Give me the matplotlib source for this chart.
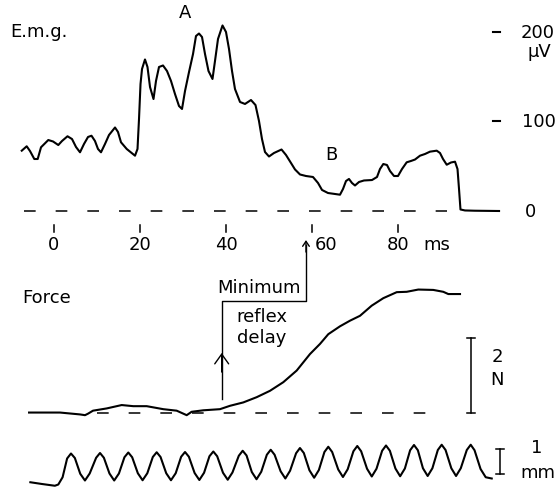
import matplotlib
matplotlib.use("Agg")
import matplotlib.pyplot as plt

plt.rcParams['font.family'] = ['DejaVu Sans']
plt.rcParams['lines.scale_dashes'] = False

# E.m.g. trace (time in ms, amplitude in microvolts)
emg_t = [-7.5, -6.35, -5.58, -4.58, -3.79, -3.02, -1.33, -0.23, 1.0, 1.86, 3.14, 4.19, 5.12, 6.05,
         6.98, 7.91, 8.72, 9.53, 10.23, 10.93, 11.86, 12.79, 14.19, 14.88, 15.58, 16.91, 17.91, 18.84,
         19.42, 19.77, 20.12, 20.47, 21.16, 21.74, 22.33, 23.14, 23.72, 24.42, 25.35, 26.28, 27.21,
         28.14, 29.07, 29.77, 30.47, 31.4, 32.33, 33.02, 33.72, 34.42, 35.12, 35.93, 36.86, 37.44,
         38.14, 39.19, 40.0, 40.7, 41.4, 42.09, 43.26, 44.42, 45.81, 46.86, 47.67, 48.37, 49.07, 50.0,
         51.16, 52.91, 53.95, 55.12, 56.05, 57.21, 58.6, 60.23, 61.4, 62.33, 63.72, 65.35, 66.51,
         67.21, 67.91, 68.6, 69.3, 70.0, 70.93, 72.09, 73.95, 75.12, 75.81, 76.58, 77.44, 78.14, 79.07,
         80.0, 80.93, 82.02, 83.02, 83.95, 85.12, 86.28, 87.44, 89.0, 89.77, 90.47, 91.33, 92.33,
         93.26, 93.84, 94.19, 94.53, 95.58, 97.91, 103.5]
emg_uv = [67.4, 72.3, 67.0, 58.1, 58.1, 71.2, 79.3, 77.7, 73.7, 78.2, 83.5, 80.4, 71.5, 65.6,
          74.9, 82.7, 84.1, 78.2, 69.3, 65.6, 74.9, 84.9, 93.3, 88.3, 76.8, 69.3, 65.4, 61.8,
          69.3, 102.8, 141.9, 158.7, 169.3, 160.9, 138.5, 125.1, 145.3, 160.9, 162.6, 156.4, 145.3,
          130.7, 117.3, 114.0, 134.1, 155.3, 175.4, 195.5, 198.3, 194.4, 175.4, 156.4, 147.5, 167.6,
          192.2, 207.3, 200.0, 181.0, 156.4, 136.3, 121.8, 119.6, 124.0, 118.4, 100.6, 80.4, 65.9, 60.9,
          64.8, 68.7, 62.6, 53.6, 46.4, 40.8, 39.1, 38.0, 31.3, 23.5, 20.1, 19.0, 18.2,
          24.6, 33.5, 35.8, 31.3, 28.5, 32.4, 34.1, 34.6, 38.0, 46.9, 52.5, 51.4, 44.7, 39.1,
          39.1, 46.9, 54.4, 55.9, 57.5, 61.8, 63.7, 66.3, 67.4, 64.8, 58.1, 51.7, 54.2,
          55.1, 46.9, 24.6, 1.7, 0.6, 0.3, 0.0]

# Force trace (ms, newtons)
force_t = [-5.8, 1.4, 6.05, 7.21, 7.91, 9.07, 12.26, 15.74, 18.44, 21.56, 25.42, 28.53, 30.86,
           32.0, 34.72, 38.6, 40.93, 44.02, 47.14, 50.23, 53.33, 56.44, 59.53, 61.86, 63.79,
           66.51, 68.84, 71.16, 73.88, 76.58, 79.7, 82.02, 84.72, 88.21, 90.53, 91.7, 94.42]
force_n = [0.02, 0.02, -0.03, -0.05, -0.01, 0.07, 0.13, 0.22, 0.19, 0.19, 0.11, 0.07, -0.05,
           0.04, 0.08, 0.11, 0.20, 0.29, 0.43, 0.60, 0.83, 1.14, 1.58, 1.85, 2.11,
           2.32, 2.47, 2.60, 2.87, 3.07, 3.23, 3.24, 3.30, 3.29, 3.24, 3.18, 3.18]

# Displacement trace (ms, mm)
disp_t = [-5.5, -2.8, 0.2, 1.0, 2.0, 3.05, 3.95, 4.85, 6.1, 7.2,
          8.3, 9.8, 10.7, 11.6, 12.9, 14.0,
          15.1, 16.38, 17.28, 18.18, 19.5, 20.6,
          21.7, 22.98, 23.88, 24.78, 26.1, 27.2,
          28.3, 29.57, 30.47, 31.37, 32.7, 33.8,
          34.9, 36.15, 37.05, 37.95, 39.3, 40.4,
          41.5, 42.98, 43.88, 44.78, 46.0, 47.1,
          48.2, 49.5, 50.4, 51.3, 52.7, 53.8,
          54.9, 56.3, 57.2, 58.1, 59.4, 60.5,
          61.6, 62.89, 63.79, 64.69, 66.1, 67.2,
          68.3, 69.63, 70.53, 71.43, 72.8, 73.9,
          75.0, 76.31, 77.21, 78.11, 79.4, 80.5,
          81.6, 82.82, 83.72, 84.62, 85.8, 86.9,
          88.0, 89.26, 90.16, 91.06, 92.4, 93.5,
          94.6, 96.0, 96.91, 97.8, 99.2, 100.4, 101.8]
disp_mm = [-0.05, -0.12, -0.19, -0.14, 0.15, 0.90, 1.10, 0.92, 0.29, 0.02,
           0.30, 0.93, 1.12, 0.93, 0.30, 0.02,
           0.30, 0.95, 1.14, 0.95, 0.31, 0.03,
           0.31, 0.96, 1.15, 0.96, 0.31, 0.03,
           0.31, 0.97, 1.16, 0.97, 0.32, 0.04,
           0.33, 0.99, 1.18, 0.99, 0.33, 0.05,
           0.34, 1.01, 1.21, 1.02, 0.36, 0.07,
           0.37, 1.05, 1.25, 1.05, 0.39, 0.10,
           0.41, 1.11, 1.32, 1.12, 0.43, 0.13,
           0.44, 1.16, 1.37, 1.16, 0.46, 0.16,
           0.47, 1.19, 1.40, 1.19, 0.49, 0.18,
           0.49, 1.21, 1.42, 1.21, 0.50, 0.19,
           0.50, 1.23, 1.44, 1.23, 0.51, 0.20,
           0.51, 1.24, 1.45, 1.24, 0.51, 0.20,
           0.51, 1.24, 1.45, 1.23, 0.48, 0.15, 0.10]

time_ticks = [0, 20, 40, 60, 80]
emg_ticks = [100, 200]

fig = plt.figure(figsize=(5.57, 4.89), dpi=100)
xlim = (-12.558, 116.977)

ax_emg = fig.add_axes([0, 0, 1, 1])
ax_f = fig.add_axes([0, 0, 1, 1])
ax_d = fig.add_axes([0, 0, 1, 1])
for ax in (ax_emg, ax_f, ax_d):
    ax.set_xlim(*xlim)
    ax.axis("off")
    ax.patch.set_alpha(0)
ax_emg.set_ylim(-309.5, 236.87)
ax_f.set_ylim(-1.992, 11.048)
ax_d.set_ylim(-0.28, 19.28)

lw = 1.5
tk = dict(fontsize=13, color="black")

# E.m.g. panel
ax_emg.plot(emg_t, emg_uv, color="black", lw=lw, solid_joinstyle="round")
ax_emg.plot([-7.0, 91.4], [0, 0], color="black", lw=1.1, dashes=(8.4, 14.4))
ax_emg.text(-10.23, 201, "E.m.g.", ha="left", va="center", **tk)
ax_emg.text(30.47, 222, "A", ha="center", va="center", **tk)
ax_emg.text(64.6, 64, "B", ha="center", va="center", **tk)
for v in emg_ticks:
    ax_emg.plot([102.1, 103.7], [v, v], color="black", lw=1.5)
ax_emg.text(116.4, 200, "200", ha="right", va="center", **tk)
ax_emg.text(110.2, 179, "\u03bcV", ha="left", va="center", **tk)
ax_emg.text(108.8, 100, "100", ha="left", va="center", **tk)
ax_emg.text(110.9, 0, "0", ha="center", va="center", **tk)
for t in time_ticks:
    ax_emg.plot([t, t], [-15.1, -23.5], color="black", lw=1.1)
    x_lab = t + 3.3 if t == 60 else t
    ax_emg.text(x_lab, -37, str(t), ha="center", va="center", **tk)
ax_emg.text(85.8, -37, "ms", ha="left", va="center", **tk)

# Force panel
ax_f.plot(force_t, force_n, color="black", lw=lw, solid_joinstyle="round")
ax_f.plot([10.0, 86.4], [0, 0], color="black", lw=1.1, dashes=(8.4, 14.4))
ax_f.text(-7.44, 3.1, "Force", ha="left", va="center", **tk)
ax_f.text(37.9, 3.37, "Minimum", ha="left", va="center", **tk)
ax_f.text(48.4, 2.59, "reflex", ha="center", va="center", **tk)
ax_f.text(48.4, 2.03, "delay", ha="center", va="center", **tk)
ax_f.plot([39.0, 39.0, 58.6, 58.6], [0.38, 3.0, 3.0, 4.5], color="black", lw=1.0)
ax_f.annotate("", xy=(58.6, 4.62), xytext=(58.6, 4.3),
              arrowprops=dict(arrowstyle="->,head_length=0.36,head_width=0.24", lw=1.0, color="black",
                              shrinkA=0, shrinkB=0))
ax_f.annotate("", xy=(39.0, 1.61), xytext=(39.0, 1.1),
              arrowprops=dict(arrowstyle="->,head_length=0.7,head_width=0.5", lw=1.0, color="black",
                              shrinkA=0, shrinkB=0))
# 2 N calibration
ax_f.plot([97.0, 97.0], [0, 2], color="black", lw=1.1)
for v in (0, 2):
    ax_f.plot([96.1, 97.9], [v, v], color="black", lw=1.1)
ax_f.text(103.0, 1.53, "2", ha="center", va="center", **tk)
ax_f.text(103.0, 0.91, "N", ha="center", va="center", **tk)

# Displacement panel
ax_d.plot(disp_t, disp_mm, color="black", lw=lw, solid_joinstyle="round")
ax_d.plot([103.7, 103.7], [0.28, 1.28], color="black", lw=1.1)
for v in (0.28, 1.28):
    ax_d.plot([102.8, 104.6], [v, v], color="black", lw=1.1)
ax_d.text(112.3, 1.36, "1", ha="center", va="center", **tk)
ax_d.text(112.6, 0.36, "mm", ha="center", va="center", **tk)

fig.savefig("out.png", dpi=100, facecolor="white")
